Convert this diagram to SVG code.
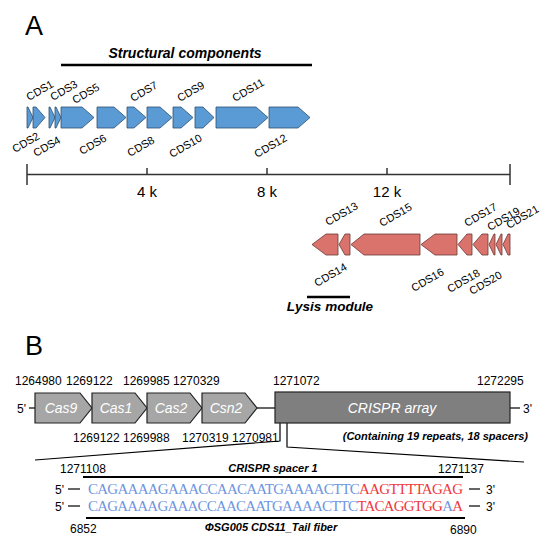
<svg xmlns="http://www.w3.org/2000/svg" width="550" height="545" viewBox="0 0 550 545">
<style>
text{font-family:"Liberation Sans",Arial,sans-serif;fill:#000}
.big{font-size:27px}
.bi{font-weight:bold;font-style:italic}
.lbl{font-size:11px}
.num{font-size:12px}
.ax{font-size:15px}
.blue{fill:#5b9bd5;stroke:#2f4f6f;stroke-width:0.8}
.red{fill:#d9736c;stroke:#6b3733;stroke-width:0.8}
.gray{fill:#a6a6a6;stroke:#222;stroke-width:1.2}
.ln{stroke:#000;stroke-width:1.2;fill:none}
.gin{fill:#fff;font-style:italic;font-size:14px}
.seq{font-family:"Liberation Serif","Times New Roman",serif;font-size:15px}
.sb{fill:#6f95e0}
.sr{fill:#f0383e}
</style>
<text class="big" x="25" y="35">A</text>
<text class="bi" x="185" y="58" font-size="14" text-anchor="middle">Structural components</text>
<line x1="61" y1="65" x2="312" y2="65" stroke="#000" stroke-width="2.5"/>
<g id="top-genes">
<polygon id="CDS1" class="blue" points="27,107 28,107 33,117.5 28,128 27,128"/>
<polygon id="CDS2" class="blue" points="33,107 36,107 45,117.5 36,128 33,128"/>
<polygon id="CDS3" class="blue" points="49,107 50,107 55,117.5 50,128 49,128"/>
<polygon id="CDS4" class="blue" points="55,107 56,107 61,117.5 56,128 55,128"/>
<polygon id="CDS5" class="blue" points="61,107 82,107 94,117.5 82,128 61,128"/>
<polygon id="CDS6" class="blue" points="97,107 114,107 126,117.5 114,128 97,128"/>
<polygon id="CDS7" class="blue" points="127,107 134,107 146,117.5 134,128 127,128"/>
<polygon id="CDS8" class="blue" points="147,107 160,107 172,117.5 160,128 147,128"/>
<polygon id="CDS9" class="blue" points="173,107 181,107 193,117.5 181,128 173,128"/>
<polygon id="CDS10" class="blue" points="195,107 203,107 214,117.5 203,128 195,128"/>
<polygon id="CDS11" class="blue" points="216,107 256,107 268,117.5 256,128 216,128"/>
<polygon id="CDS12" class="blue" points="269,107 298,107 310,117.5 298,128 269,128"/>
</g>
<g id="top-labels">
<text class="lbl" transform="translate(29,101) rotate(-30)">CDS1</text>
<text class="lbl" transform="translate(53,101) rotate(-30)">CDS3</text>
<text class="lbl" transform="translate(75,104) rotate(-30)">CDS5</text>
<text class="lbl" transform="translate(133,102) rotate(-30)">CDS7</text>
<text class="lbl" transform="translate(180,102) rotate(-30)">CDS9</text>
<text class="lbl" transform="translate(235,102) rotate(-30)">CDS11</text>
<text class="lbl" transform="translate(15,153) rotate(-30)">CDS2</text>
<text class="lbl" transform="translate(36,157) rotate(-30)">CDS4</text>
<text class="lbl" transform="translate(82,155) rotate(-30)">CDS6</text>
<text class="lbl" transform="translate(130,157) rotate(-30)">CDS8</text>
<text class="lbl" transform="translate(172,158) rotate(-30)">CDS10</text>
<text class="lbl" transform="translate(257,158) rotate(-30)">CDS12</text>
</g>
<g id="axis" stroke="#333" stroke-width="1.5">
<line x1="27" y1="174.5" x2="510" y2="174.5"/>
<line x1="27" y1="164" x2="27" y2="185"/>
<line x1="510" y1="164" x2="510" y2="185"/>
<line x1="147" y1="168" x2="147" y2="174.5"/>
<line x1="267" y1="168" x2="267" y2="174.5"/>
<line x1="387" y1="168" x2="387" y2="174.5"/>
</g>
<text class="ax" x="147" y="197" text-anchor="middle">4 k</text>
<text class="ax" x="267" y="197" text-anchor="middle">8 k</text>
<text class="ax" x="387" y="197" text-anchor="middle">12 k</text>
<g id="lysis-genes">
<polygon id="CDS13" class="red" points="312,244.5 326,234 338,234 338,255 326,255"/>
<polygon id="CDS14" class="red" points="339,244.5 345,234 350,234 350,255 345,255"/>
<polygon id="CDS15" class="red" points="351,244.5 364,234 420,234 420,255 364,255"/>
<polygon id="CDS16" class="red" points="421,244.5 435,234 457,234 457,255 435,255"/>
<polygon id="CDS17" class="red" points="458,244.5 467,234 472,234 472,255 467,255"/>
<polygon id="CDS18" class="red" points="473,244.5 482,234 488,234 488,255 482,255"/>
<polygon id="CDS19" class="red" points="489,244.5 494,234 495,234 495,255 494,255"/>
<polygon id="CDS20" class="red" points="496,244.5 501,234 502,234 502,255 501,255"/>
<polygon id="CDS21" class="red" points="503,244.5 508,234 510,234 510,255 508,255"/>
</g>
<g id="lysis-labels">
<text class="lbl" transform="translate(328,226) rotate(-30)">CDS13</text>
<text class="lbl" transform="translate(382,227) rotate(-30)">CDS15</text>
<text class="lbl" transform="translate(467,227) rotate(-30)">CDS17</text>
<text class="lbl" transform="translate(490,231) rotate(-30)">CDS19</text>
<text class="lbl" transform="translate(509,229) rotate(-30)">CDS21</text>
<text class="lbl" transform="translate(317,287) rotate(-30)">CDS14</text>
<text class="lbl" transform="translate(414,292) rotate(-30)">CDS16</text>
<text class="lbl" transform="translate(450,293) rotate(-30)">CDS18</text>
<text class="lbl" transform="translate(472,295) rotate(-30)">CDS20</text>
</g>
<line x1="307" y1="297" x2="350" y2="297" stroke="#000" stroke-width="2.5"/>
<text class="bi" x="330" y="311" font-size="13.5" text-anchor="middle">Lysis module</text>
<text class="big" x="25" y="355">B</text>
<g id="cas-numbers">
<text class="num" x="15" y="385">1264980</text>
<text class="num" x="66" y="385">1269122</text>
<text class="num" x="123" y="385">1269985</text>
<text class="num" x="173" y="385">1270329</text>
<text class="num" x="273" y="385">1271072</text>
<text class="num" x="477" y="385">1272295</text>
<text class="num" x="73" y="442">1269122</text>
<text class="num" x="123" y="442">1269988</text>
<text class="num" x="182" y="442">1270319</text>
<text class="num" x="232" y="442">1270981</text>
</g>
<g id="connectors" class="ln">
<line x1="29" y1="408" x2="35" y2="408"/>
<line x1="257" y1="408" x2="275" y2="408"/>
<line x1="510" y1="408" x2="520" y2="408"/>
<polyline points="280,423 280,441 35,460"/>
<polyline points="287,423 287,447 524,462"/>
<line x1="83" y1="477" x2="463" y2="477" stroke-width="1.8"/>
<line x1="86" y1="518" x2="465" y2="518" stroke-width="1.8"/>
<line x1="68" y1="489" x2="80" y2="489"/>
<line x1="68" y1="506" x2="80" y2="506"/>
<line x1="469" y1="489" x2="480" y2="489"/>
<line x1="469" y1="506" x2="480" y2="506"/>
</g>
<text class="num" x="17" y="413">5'</text>
<text class="num" x="523" y="413">3'</text>
<g id="Cas9"><polygon class="gray" points="35,393 80,393 92,408 80,423 35,423"/><text class="gin" x="61" y="413" text-anchor="middle">Cas9</text></g>
<g id="Cas1"><polygon class="gray" points="92,393 135,393 147,408 135,423 92,423"/><text class="gin" x="116" y="413" text-anchor="middle">Cas1</text></g>
<g id="Cas2"><polygon class="gray" points="147,393 190,393 202,408 190,423 147,423"/><text class="gin" x="171" y="413" text-anchor="middle">Cas2</text></g>
<g id="Csn2"><polygon class="gray" points="202,393 245,393 257,408 245,423 202,423"/><text class="gin" x="226" y="413" text-anchor="middle">Csn2</text></g>
<g id="CRISPR-array"><rect x="275" y="392" width="235" height="31" fill="#7f7f7f" stroke="#222" stroke-width="1.2"/><text class="gin" x="392" y="413" text-anchor="middle">CRISPR array</text></g>
<text class="bi" x="528" y="440" font-size="11" text-anchor="end">(Containing 19 repeats, 18 spacers)</text>
<text class="num" x="60" y="473">1271108</text>
<text class="bi" x="273" y="472" font-size="11" text-anchor="middle">CRISPR spacer 1</text>
<text class="num" x="438" y="473">1271137</text>
<text class="num" x="55" y="494">5'</text>
<text class="num" x="55" y="511">5'</text>
<text class="num" x="486" y="494">3'</text>
<text class="num" x="486" y="511">3'</text>
<text class="seq" x="88" y="493.5" textLength="375" lengthAdjust="spacing"><tspan class="sb">CAGAAAAGAAACCAACAATGAAAACTTC</tspan><tspan class="sr">AAGTTTTAGAG</tspan></text>
<text class="seq" x="88" y="511" textLength="375" lengthAdjust="spacing"><tspan class="sb">CAGAAAAGAAACCAACAATGAAAACTTC</tspan><tspan class="sr">TACAGGTGG</tspan><tspan class="sb">A</tspan><tspan class="sr">A</tspan></text>
<text class="num" x="70" y="533">6852</text>
<text class="bi" x="271" y="531" font-size="11" text-anchor="middle">ΦSG005 CDS11_Tail fiber</text>
<text class="num" x="450" y="534">6890</text>
</svg>
